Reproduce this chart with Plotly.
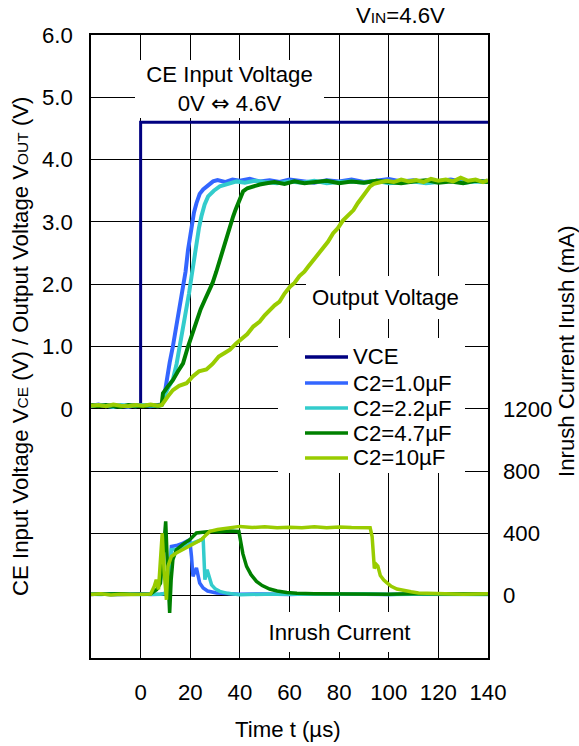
import plotly.graph_objects as go

# ---------------- data ----------------
series_names = ["VCE", "C2=1.0µF", "C2=2.2µF", "C2=4.7µF", "C2=10µF"]
series_colors = ["#000080", "#3366FF", "#33CCCC", "#008000", "#99CC00"]

x_tick_vals = [0, 20, 40, 60, 80, 100, 120, 140]
x_tick_text = ["0", "20", "40", "60", "80", "100", "120", "140"]
y_tick_vals = [-3, -2, -1, 0, 1, 2, 3, 4, 5, 6]
y_tick_text = ["", "", "", "0", "1.0", "2.0", "3.0", "4.0", "5.0", "6.0"]
y2_tick_vals = [0, 400, 800, 1200]
y2_tick_text = ["0", "400", "800", "1200"]

# CE input voltage (V)
t_vce = [-20, 0, 0, 140]
v_vce = [0.05, 0.05, 4.6, 4.6]

# Output voltage (V)
t_out_1 = [-20, -17, -14, -11, -8, -5, -2, 1, 4, 7, 8.5, 9.5, 10.4, 11.7, 13, 14, 15.1, 16, 17.1, 18.1,
           19.1, 19.8, 20.5, 21.5, 22.5, 23.8, 25.2, 27, 29.2, 31, 34, 37, 40, 44, 48, 52, 56, 60, 65,
           70, 75, 80, 85, 90, 95, 100, 105, 110, 115, 120, 125, 130, 135, 140]
v_out_1 = [0.05, 0.07, 0.04, 0.06, 0.05, 0.03, 0.06, 0.05, 0.04, 0.06, 0.07, 0.2, 0.47, 0.74, 1.0, 1.22,
           1.48, 1.7, 1.92, 2.2, 2.55, 2.75, 2.93, 3.15, 3.3, 3.45, 3.52, 3.58, 3.65, 3.67, 3.64, 3.68,
           3.66, 3.69, 3.65, 3.67, 3.64, 3.68, 3.66, 3.63, 3.67, 3.65, 3.68, 3.64, 3.66, 3.69, 3.65,
           3.67, 3.63, 3.66, 3.68, 3.64, 3.66, 3.65]

t_out_2 = [-20, -17, -14, -11, -8, -5, -2, 1, 4, 7, 8.5, 9.5, 11, 13, 14.5, 15.8, 17.2, 18.5, 19.5, 20.5,
           21.5, 22.5, 23.5, 24.5, 25.8, 27.2, 29.5, 31.9, 35, 38.7, 42, 46, 50, 55, 60, 65, 70, 75, 80,
           85, 90, 95, 100, 105, 110, 115, 120, 125, 130, 135, 140]
v_out_2 = [0.04, 0.06, 0.05, 0.03, 0.06, 0.05, 0.04, 0.06, 0.05, 0.04, 0.06, 0.2, 0.33, 0.47, 0.72, 1.0,
           1.28, 1.59, 1.85, 2.12, 2.4, 2.66, 2.9, 3.09, 3.28, 3.41, 3.5, 3.57, 3.61, 3.65, 3.63, 3.66,
           3.64, 3.62, 3.65, 3.63, 3.66, 3.62, 3.64, 3.65, 3.63, 3.66, 3.62, 3.64, 3.65, 3.62, 3.64,
           3.66, 3.63, 3.65, 3.64]

t_out_3 = [-20, -17, -14, -11, -8, -5, -2, 1, 4, 7, 8.5, 9, 11, 13, 15, 17.1, 19.1, 20.8, 22.5, 24.2, 25.9,
           27.5, 29, 30.5, 31.9, 33.3, 34.6, 36, 37.3, 38.3, 39.3, 40.3, 41.3, 43, 45.4, 48, 50.8, 54, 58,
           62, 66, 70, 75, 80, 85, 90, 95, 100, 105, 110, 115, 120, 125, 130, 135, 140]
v_out_3 = [0.06, 0.04, 0.06, 0.05, 0.03, 0.06, 0.05, 0.04, 0.06, 0.05, 0.07, 0.25, 0.36, 0.46, 0.6, 0.73,
           1.0, 1.2, 1.43, 1.6, 1.75, 1.88, 2.02, 2.2, 2.39, 2.58, 2.77, 2.93, 3.09, 3.2, 3.3, 3.41, 3.49,
           3.54, 3.57, 3.6, 3.62, 3.64, 3.61, 3.65, 3.62, 3.64, 3.66, 3.62, 3.65, 3.63, 3.66, 3.64,
           3.62, 3.65, 3.67, 3.63, 3.65, 3.62, 3.66, 3.64]

t_out_4 = [-20, -17, -14, -11, -8, -5, -2, 1, 4, 7, 8.5, 9, 11, 13, 15.5, 18.5, 21, 23.5, 26.5, 29, 31.5, 34,
           36, 38.5, 41, 43, 45.4, 48, 50, 52, 54, 56, 58, 60.2, 62, 64, 66, 67.5, 69.6, 71.5, 73.4, 75.5,
           77.6, 79.5, 81.5, 83.5, 85.8, 87.5, 89, 90.5, 92.5, 94, 96.6, 99, 102, 105, 108, 111, 114,
           117, 120, 123, 126, 129, 132, 135, 138, 140]
v_out_4 = [0.05, 0.06, 0.04, 0.07, 0.05, 0.04, 0.06, 0.05, 0.07, 0.05, 0.06, 0.09, 0.2, 0.3, 0.37, 0.41,
           0.52, 0.6, 0.63, 0.72, 0.84, 0.9, 0.95, 1.05, 1.13, 1.2, 1.32, 1.4, 1.5, 1.59, 1.66, 1.72,
           1.85, 1.96, 2.02, 2.13, 2.2, 2.28, 2.39, 2.47, 2.58, 2.68, 2.82, 2.9, 3.02, 3.1, 3.19, 3.3,
           3.38, 3.45, 3.57, 3.61, 3.63, 3.66, 3.64, 3.68, 3.65, 3.67, 3.64, 3.69, 3.66, 3.68, 3.65,
           3.71, 3.66, 3.68, 3.64, 3.67]

# Inrush current (mA)
t_inr_1 = [-20, -16, -12, -8, -4, 0, 4, 8, 11.5, 12.4, 14.4, 17.1, 19.8, 20.5, 21.1, 22.5, 23.8, 25.2,
           27, 30.6, 35, 40, 50, 60, 70, 80, 90, 100, 110, 120, 130, 140]
i_inr_1 = [8, 12, 6, 10, 9, 12, 8, 10, 20, 316, 322, 338, 360, 252, 124, 178, 82, 49, 30, 17, 12, 9,
           11, 8, 12, 9, 11, 8, 12, 10, 9, 11]

t_inr_2 = [-20, -16, -12, -8, -4, 0, 4, 8, 11.6, 12.4, 15, 19.8, 22, 24.5, 25.2, 25.5, 25.9, 26.8, 28.6,
           30, 31.9, 35, 40, 50, 60, 70, 80, 90, 100, 110, 120, 130, 140]
i_inr_2 = [10, 8, 12, 9, 11, 8, 10, 9, 20, 295, 300, 330, 345, 360, 370, 230, 103, 167, 70, 45, 28, 15,
           6, 10, 8, 11, 9, 12, 8, 10, 9, 11, 8]

t_inr_3 = [-20, -16, -12, -8, -4, 0, 4, 6.5, 8, 9, 10.1, 10.8, 11.7, 12.3, 13, 14.4, 17, 19.8, 22.5, 25,
           27.9, 32, 36, 39.6, 40.3, 41.2, 42.7, 44.5, 46.7, 49, 52, 55, 58.9, 63, 70, 80, 90, 100, 110,
           120, 130, 140]
i_inr_3 = [9, 11, 8, 12, 10, 8, 11, 40, 80, 250, 477, 200, -110, 100, 231, 295, 330, 360, 403, 408, 413,
           411, 415, 413, 340, 270, 188, 135, 92, 65, 43, 30, 21, 15, 12, 10, 11, 9, 12, 10, 8, 11]

t_inr_4 = [-20, -16, -12, -8, -4, 0, 4, 5.5, 6.3, 7.2, 8, 8.7, 9.5, 10.4, 11, 12.4, 14.4, 17, 19.8, 22,
           24.5, 26, 27.9, 31, 34.6, 40, 45, 50, 55, 60, 65, 70, 75, 80, 85, 90, 92.5, 93.3, 93.8, 94.2,
           95, 95.6, 96.6, 98, 99.3, 101, 103.3, 106, 109, 112, 116, 120, 130, 140]
i_inr_4 = [8, 12, 5, 10, 8, 11, 10, 60, 103, 40, 200, 400, 150, -26, 188, 252, 274, 295, 316, 335, 360,
           385, 413, 425, 435, 445, 438, 442, 436, 440, 437, 443, 436, 441, 438, 440, 437, 380, 250,
           175, 200, 190, 130, 100, 82, 60, 43, 32, 25, 18, 15, 12, 10, 12]

out_t = [t_out_1, t_out_2, t_out_3, t_out_4]
out_v = [v_out_1, v_out_2, v_out_3, v_out_4]
inr_t = [t_inr_1, t_inr_2, t_inr_3, t_inr_4]
inr_i = [i_inr_1, i_inr_2, i_inr_3, i_inr_4]

# ---------------- figure ----------------
FONT = "Liberation Sans, Arial, sans-serif"
FS = 22.2
SUB = "<span style='font-size:15.5px'>"
W, H = 579, 746
L, R, T, B = 91, 91, 35, 88
PW, PH = W - L - R, H - T - B


def px(x):
    return (x - L) / PW


def py(y):
    return (H - B - y) / PH


fig = go.Figure()

fig.add_trace(go.Scatter(x=t_vce, y=v_vce, mode="lines", name=series_names[0],
                         line=dict(color=series_colors[0], width=3), showlegend=False))
for k in range(4):
    fig.add_trace(go.Scatter(x=out_t[k], y=out_v[k], mode="lines", name=series_names[k + 1],
                             line=dict(color=series_colors[k + 1], width=4), showlegend=False))
for k in range(4):
    fig.add_trace(go.Scatter(x=inr_t[k], y=inr_i[k], mode="lines", name=series_names[k + 1],
                             yaxis="y2", line=dict(color=series_colors[k + 1], width=3.5),
                             showlegend=False))

annotations = []
shapes = []


def box_note(text, x0, x1, y0, y1):
    annotations.append(dict(text=text, xref="paper", yref="paper",
                            x=px((x0 + x1) / 2), y=py((y0 + y1) / 2),
                            xanchor="center", yanchor="middle", showarrow=False,
                            width=x1 - x0, height=y1 - y0, borderpad=0, borderwidth=0,
                            bgcolor="white", align="center",
                            font=dict(family=FONT, size=FS, color="black")))


box_note("CE Input Voltage<br>0V <span style='font-family:DejaVu Sans'>⇔</span> 4.6V",
         135, 324, 60, 118)
box_note("Output Voltage", 306, 465, 276, 319)
box_note("Inrush Current", 243, 436, 612, 652)

# legend panel
shapes.append(dict(type="rect", xref="paper", yref="paper", x0=px(278), x1=px(465),
                   y0=py(473), y1=py(338), fillcolor="white", line=dict(width=0), layer="above"))
leg_y = [357, 383, 408, 433, 458]
for k in range(5):
    shapes.append(dict(type="line", xref="paper", yref="paper", x0=px(305), x1=px(348),
                       y0=py(leg_y[k]), y1=py(leg_y[k]),
                       line=dict(color=series_colors[k], width=3.5), layer="above"))
    annotations.append(dict(text=series_names[k], xref="paper", yref="paper", x=px(351),
                            y=py(leg_y[k]), xanchor="left", yanchor="middle", showarrow=False,
                            font=dict(family=FONT, size=FS, color="black")))

# titles
annotations.append(dict(text="V" + SUB + "IN</span>=4.6V", xref="paper", yref="paper",
                        x=px(400), y=py(16), xanchor="center", yanchor="middle", showarrow=False,
                        font=dict(family=FONT, size=FS, color="black")))
annotations.append(dict(text="Time t (µs)", xref="paper", yref="paper",
                        x=px(288), y=py(729), xanchor="center", yanchor="middle", showarrow=False,
                        font=dict(family=FONT, size=FS, color="black")))
annotations.append(dict(text="CE Input Voltage V" + SUB + "CE</span> (V) / "
                             "Output Voltage V" + SUB + "OUT</span> (V)",
                        xref="paper", yref="paper", x=px(21), y=py(346), textangle=-90,
                        xanchor="center", yanchor="middle", showarrow=False,
                        font=dict(family=FONT, size=FS, color="black")))
annotations.append(dict(text="Inrush Current Irush (mA)", xref="paper", yref="paper",
                        x=px(566), y=py(351), textangle=-90,
                        xanchor="center", yanchor="middle", showarrow=False,
                        font=dict(family=FONT, size=FS, color="black")))

fig.update_layout(
    width=W, height=H,
    margin=dict(l=L, r=R, t=T, b=B, pad=0),
    paper_bgcolor="white", plot_bgcolor="white",
    font=dict(family=FONT, size=FS, color="black"),
    showlegend=False,
    annotations=annotations,
    shapes=shapes,
    xaxis=dict(range=[-20, 140], tickvals=x_tick_vals, ticktext=x_tick_text,
               showgrid=True, gridcolor="black", gridwidth=1, zeroline=False,
               showline=True, linecolor="black", linewidth=1.5, mirror=True,
               ticks="", ticklabelstandoff=14, tickfont=dict(family=FONT, size=FS)),
    yaxis=dict(range=[-4, 6], tickvals=y_tick_vals, ticktext=y_tick_text,
               showgrid=True, gridcolor="black", gridwidth=1, zeroline=False,
               showline=True, linecolor="black", linewidth=1.5, mirror=True,
               ticks="", ticklabelstandoff=12, tickfont=dict(family=FONT, size=FS)),
    yaxis2=dict(range=[-400, 3600], tickvals=y2_tick_vals, ticktext=y2_tick_text,
                overlaying="y", side="right", showgrid=False, zeroline=False,
                showline=False, ticks="", ticklabelstandoff=14,
                tickfont=dict(family=FONT, size=FS)),
)

fig.write_html("out.html", config={"displayModeBar": False},
               post_script="document.body.style.margin='0';")
